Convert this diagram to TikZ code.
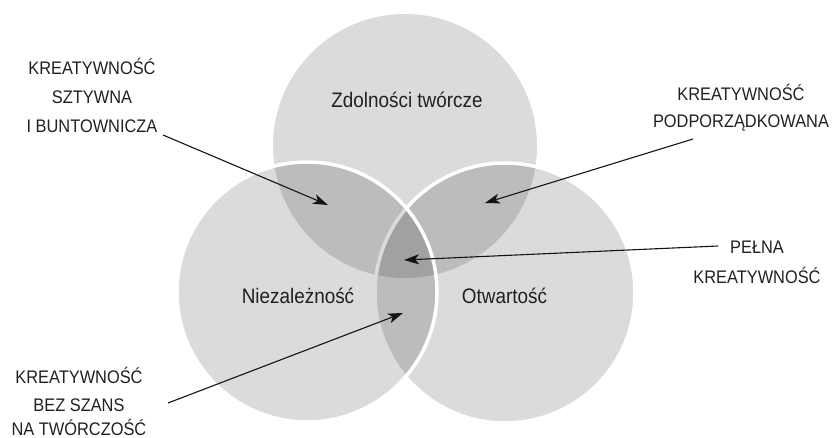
\documentclass[tikz,border=0pt]{standalone}
\usepackage{fontspec}
\setmainfont{Liberation Sans}
\newfontfamily\narrowsans[FakeStretch=0.9]{Liberation Sans}
\usetikzlibrary{arrows.meta}
\definecolor{txt}{HTML}{231F20}
\begin{document}
\begin{tikzpicture}[x=1pt,y=-1pt,
  lab/.style={anchor=base, font=\narrowsans\fontsize{18.2}{20}\selectfont, text=txt, inner sep=0pt},
  clab/.style={anchor=base, font=\narrowsans\fontsize{21}{24}\selectfont, text=txt, inner sep=0pt},
  disc/.style={fill=black, fill opacity=0.14},
  rim/.style={draw=white, line width=3.5pt},
  arr/.style={draw=black!92, line width=1.1pt, -{Stealth[length=15pt,width=10pt,inset=4pt]}}]
\useasboundingbox (0,0) rectangle (837,438);
% circles
\fill[disc] (405,146) circle[radius=132];
\fill[disc] (505,293) circle[radius=130];
\draw[rim] (505,293) circle[radius=130];
\fill[disc] (307,292) circle[radius=130];
\draw[rim] (307,292) circle[radius=130];
% circle labels
\node[clab] (zd) at (407,107.5) {Zdolności twórcze};
\node[clab] (nz) at (298,303.5) {Niezależność};
\node[clab] (ot) at (504.5,303.5) {Otwartość};
% annotations
\node[lab] (ks1) at (92,74.2) {KREATYWNOŚĆ};
\node[lab] (ks2) at (92,103.5) {SZTYWNA};
\node[lab] (ks3) at (92,133) {I BUNTOWNICZA};
\node[lab] (kp1) at (741,101) {KREATYWNOŚĆ};
\node[lab] (kp2) at (741,128) {PODPORZĄDKOWANA};
\node[lab] (pk1) at (757,254) {PEŁNA};
\node[lab] (pk2) at (757,283) {KREATYWNOŚĆ};
\node[lab] (kb1) at (79,383) {KREATYWNOŚĆ};
\node[lab] (kb2) at (79,411) {BEZ SZANS};
\node[lab] (kb3) at (79,435.5) {NA TWÓRCZOŚĆ};
% arrows
\coordinate (a1s) at (163,135); \coordinate (a1e) at (328,205);
\coordinate (a2s) at (693,139); \coordinate (a2e) at (485,203);
\coordinate (a3s) at (718,246); \coordinate (a3e) at (404,260);
\coordinate (a4s) at (168,403); \coordinate (a4e) at (403,313);
\draw[arr] (a1s) -- (a1e);
\draw[arr] (a2s) -- (a2e);
\draw[arr] (a3s) -- (a3e);
\draw[arr] (a4s) -- (a4e);
\end{tikzpicture}
\end{document}
